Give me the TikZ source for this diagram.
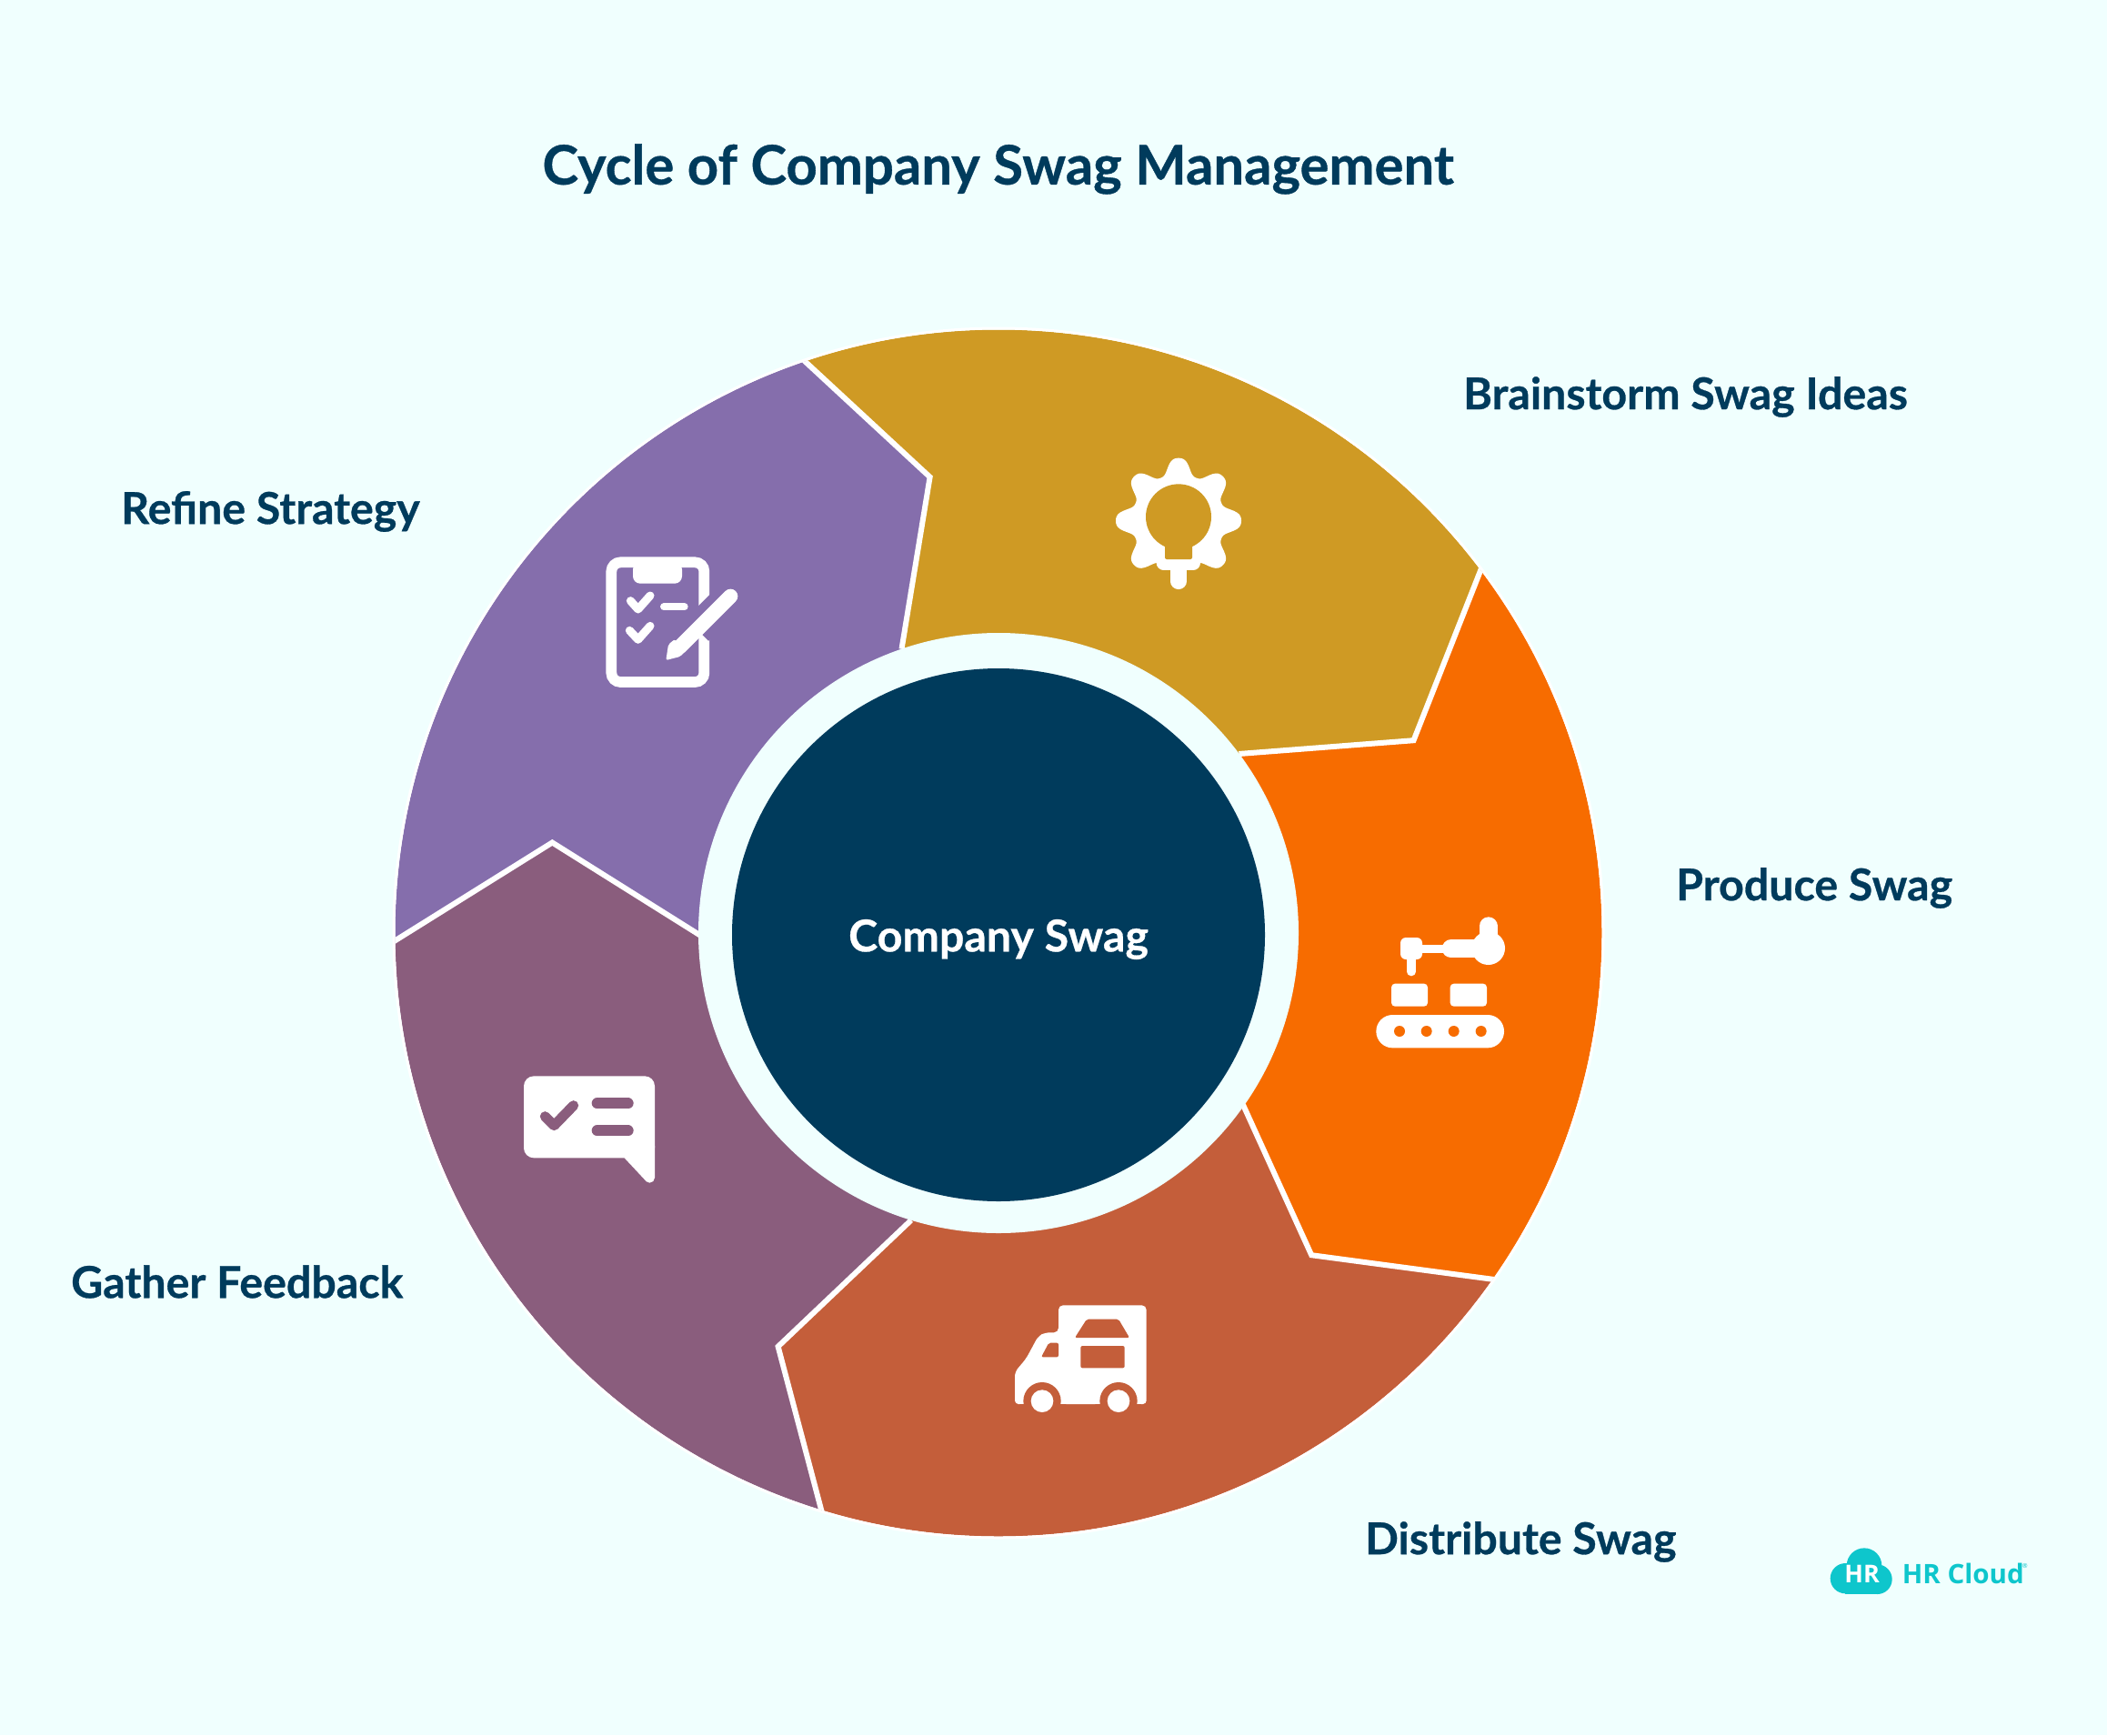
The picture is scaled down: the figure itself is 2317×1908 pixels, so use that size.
\documentclass[tikz,border=0pt]{standalone}
\usepackage{fontspec}
\setmainfont{Lato}[BoldFeatures={FakeBold=0.6}]
\newfontfamily\logofont{Open Sans}
\usetikzlibrary{calc}
\definecolor{bgcol}{HTML}{F0FFFE}
\definecolor{navy}{HTML}{003B5C}
\definecolor{gold}{HTML}{CF9A24}
\definecolor{tangerine}{HTML}{F76C00}
\definecolor{rust}{HTML}{C45E3A}
\definecolor{plum}{HTML}{8A5D7D}
\definecolor{violet}{HTML}{856EAC}
\definecolor{teal}{HTML}{0EC6CC}
\tikzset{
  steplabel/.style={navy, anchor=west, inner sep=0, font=\fontsize{48.3}{0}\selectfont\bfseries},
  seam/.style={white, line width=6, line join=miter},
  icon/.style={white, line cap=round, line join=round},
}

\begin{document}
\begin{tikzpicture}[x=1pt, y=-1pt]
\useasboundingbox (0,0) rectangle (2317,1908);
\fill[bgcol] (0,0) rectangle (2317,1908);

\coordinate (O) at (1098,1026);
\coordinate (A) at (883.7,396);    \coordinate (A1) at (1022.6,524.6); \coordinate (A2) at (991.5,713.7);
\coordinate (B) at (1628.4,626.5); \coordinate (B1) at (1554.5,814.2); \coordinate (B2) at (1362.4,829);
\coordinate (C) at (1641.7,1406.8);\coordinate (C1) at (1442.2,1380.2);\coordinate (C2) at (1366.9,1214.7);
\coordinate (D) at (902.9,1659.5); \coordinate (D1) at (855.6,1480.7); \coordinate (D2) at (1001.9,1341.8);
\coordinate (E) at (434.4,1034.4); \coordinate (E1) at (607.3,926.5);  \coordinate (E2) at (769.9,1028.5);

% the five sectors, cut off by the disc
\begin{scope}
\clip (O) circle (663.5);
\fill[gold] ($(A1)!1.1!(A)$)--(A1)--(A2)--(O)--(B2)--(B1)--($(B1)!1.1!(B)$)--($(O)!1.6!(B)$)--($(O)!1.6!(A)$)--cycle;
\fill[tangerine] ($(B1)!1.1!(B)$)--(B1)--(B2)--(O)--(C2)--(C1)--($(C1)!1.1!(C)$)--($(O)!1.6!(C)$)--($(O)!1.6!(B)$)--cycle;
\fill[rust] ($(C1)!1.1!(C)$)--(C1)--(C2)--(O)--(D2)--(D1)--($(D1)!1.1!(D)$)--($(O)!1.6!(D)$)--($(O)!1.6!(C)$)--cycle;
\fill[plum] ($(D1)!1.1!(D)$)--(D1)--(D2)--(O)--(E2)--(E1)--($(E1)!1.1!(E)$)--($(O)!1.6!(E)$)--($(O)!1.6!(D)$)--cycle;
\fill[violet] ($(E1)!1.1!(E)$)--(E1)--(E2)--(O)--(A2)--(A1)--($(A1)!1.1!(A)$)--($(O)!1.6!(A)$)--($(O)!1.6!(E)$)--cycle;
\draw[seam] ($(A1)!1.1!(A)$)--(A1)--(A2);
\draw[seam] ($(B1)!1.1!(B)$)--(B1)--(B2);
\draw[seam] ($(C1)!1.1!(C)$)--(C1)--(C2);
\draw[seam] ($(D1)!1.1!(D)$)--(D1)--(D2);
\draw[seam] ($(E1)!1.1!(E)$)--(E1)--(E2);
\end{scope}
\draw[white, line width=3] (O) circle (665);
\fill[bgcol] (O) circle (330);
\fill[navy] (1098,1028) circle (293);

\node (title) at (1097.5,186) [navy, font=\fontsize{59.8}{0}\selectfont\bfseries] {Cycle of Company Swag Management};
\node (hub) at (1098,1033) [white, font=\fontsize{48.3}{0}\selectfont\bfseries] {Company Swag};
\node (brainstorm) at (1609,436.5) [steplabel] {Brainstorm Swag Ideas};
\node (produce) at (1843,976.5) [steplabel] {Produce Swag};
\node (distribute) at (1501,1695.5) [steplabel] {Distribute Swag};
\node (gather) at (78,1409.5) [steplabel] {Gather Feedback};
\node (refine) at (133,562.5) [steplabel] {Refine Strategy};

% bulb
\begin{scope}[shift={(1180,480)}, scale=1/3]
\fill[white] plot[domain=0:360, samples=181, smooth] ({348+(180+27*(1.08*cos(8*\x)-0.08*cos(24*\x)))*cos(\x)}, {278+(180+27*(1.08*cos(8*\x)-0.08*cos(24*\x)))*sin(\x)}) -- cycle;
\fill[white, rounded corners=8] (275,380) rectangle (420,441);
\fill[gold] (250,441) rectangle (450,520);
\draw[icon, line width=17.5] (348,430)--(348,478);
\fill[gold] (348,265) circle (108);
\fill[gold, rounded corners=2] (303,320) rectangle (393,405);
\end{scope}

% clipboard
\begin{scope}[shift={(640,590)}, scale=1/3]
\draw[white, line width=11.7, rounded corners=10] (97,85) rectangle (403,480);
\fill[white, rounded corners=8] (168,85)--(168,155)--(330,155)--(330,85)--cycle;
\draw[violet, line width=35] (380,307)--(470,217);
\draw[icon, line width=9] (160,212)--(185,240)--(225,195);
\draw[icon, line width=9] (157,310)--(185,340)--(225,295);
\draw[icon, line width=8] (270,232)--(338,232);
\draw[icon, line width=16] (490,197)--(322,365);
\fill[white, rounded corners=2] (306,339)--(285,356)--(277,408)--(324,396)--(338,381)--cycle;
\end{scope}

% robot arm and conveyor
\begin{scope}[shift={(1490,990)}, scale=1/3]
\fill[white, rounded corners=18] (70,378) rectangle (492,487);
\foreach \hx in {147,236,326,416} \fill[tangerine] (\hx,432) circle (18);
\fill[white, rounded corners=4] (120,350)--(120,275)--(240,275)--(240,350)--cycle;
\fill[white, rounded corners=4] (314,350)--(314,275)--(435,275)--(435,350)--cycle;
\fill[white] (440,158) circle (55);
\draw[icon, line width=20] (440,85)--(440,158);
\draw[icon, line width=20] (317,160)--(440,160);
\draw[white, line width=9] (200,161)--(300,161);
\fill[white, rounded corners=6] (150,123) rectangle (222,195);
\draw[icon, line width=9.3] (186,180)--(186,236);
\end{scope}

% truck
\begin{scope}[shift={(1090,1410)}, scale=1/3]
\fill[white, rounded corners=5] (78,402)--(78,296)--(115,252)--(155,178)--(178,166)--(222,166)--(222,76)--(512,76)--(512,402)--cycle;
\fill[rust] (168,392) circle (62) (420,392) circle (62);
\fill[rust] (78,402) rectangle (512,440);
\fill[white, rounded corners=4] (235,402) rectangle (355,380);
\fill[white, rounded corners=4] (78,380)--(78,402)--(105,402)--(105,380)--cycle;
\fill[white, rounded corners=4] (483,380)--(483,402)--(512,402)--(512,380)--cycle;
\fill[white] (168,392) circle (37) (420,392) circle (37);
\fill[rust, rounded corners=2] (190,200)--(222,200)--(222,247)--(165,247)--cycle;
\fill[rust, rounded corners=2] (315,122)--(420,122)--(456,183)--(276,183)--cycle;
\fill[rust, rounded corners=2] (295,210) rectangle (440,283);
\end{scope}

% speech bubble
\begin{scope}[shift={(560,1160)}, scale=1/3]
\fill[white, rounded corners=11] (48,70) rectangle (480,340);
\fill[white] (380,300)--(380,340)--(449,414)--(480,405)--(480,300)--cycle;
\fill[white] (463,405) circle (17);
\draw[icon, plum, line width=11] (118,203)--(148,233)--(212,167);
\draw[icon, plum, line width=12] (290,160)--(392,160);
\draw[icon, plum, line width=12] (290,250)--(392,250);
\end{scope}

% logo
\begin{scope}[shift={(2000,1690)}, scale=1/3]
\fill[teal] (88,137) circle (50) (150,95) circle (58) (193,140) circle (49);
\fill[teal] (88,120) rectangle (193,188);
\node (cloudtext) at (143,122) [white, font=\logofont\fontsize{27}{0}\selectfont\bfseries] {HR};
\node (brand) at (275,122) [teal, anchor=west, inner sep=0, font=\logofont\fontsize{29.5}{0}\selectfont\bfseries] {HR Cloud};
\node (regmark) at (680,96) [teal, inner sep=0, font=\logofont\fontsize{7}{0}\selectfont] {®};
\end{scope}
\end{tikzpicture}
\end{document}
